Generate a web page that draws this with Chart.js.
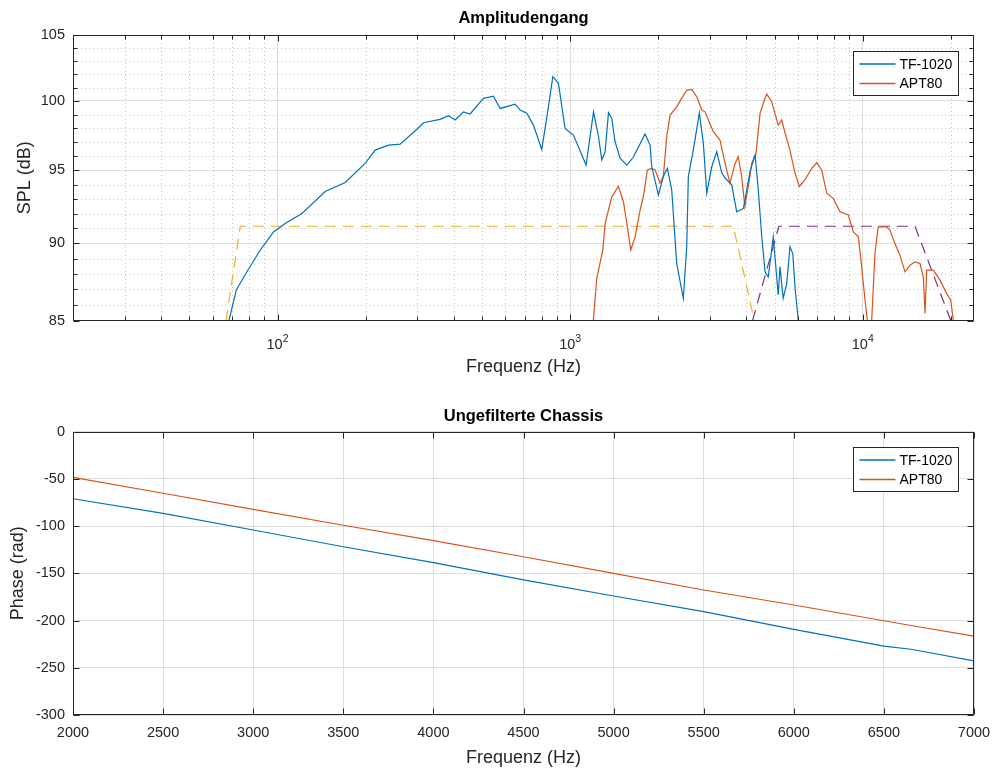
<!DOCTYPE html>
<html>
<head>
<meta charset="utf-8">
<script src="https://cdn.jsdelivr.net/npm/chart.js@4.4.0/dist/chart.umd.min.js"></script>
<style>
    html, body { margin: 0; padding: 0; background: #fff; }
    #wrap { position: relative; width: 995px; height: 769px; }
    .box { position: absolute; left: 0; width: 995px; }
    #oben { top: 0; height: 385px; }
    #unten { top: 385px; height: 384px; }
</style>
</head>
<body>
<div id="wrap">
    <div class="box" id="oben"><canvas id="amplitude"></canvas></div>
    <div class="box" id="unten"><canvas id="phase"></canvas></div>
</div>
<script>
// Amplitudengang (Frequenz in Hz, SPL in dB)
const tfFreq = [68, 72.3, 78.6, 87.3, 96.9, 106.2, 121.2, 145.5, 170.3, 199.3, 215.7, 239.4, 262.6, 307.3, 315.3,
    359.5, 383.9, 404.6, 431.9, 455.1, 505.5, 547, 576.6, 648.6, 674.6, 711, 749, 800, 843, 872.6, 912, 961, 1026,
    1134, 1202, 1250, 1283, 1317, 1352, 1388, 1424, 1482, 1562, 1644, 1803, 1876, 1901, 2003, 2083, 2149, 2224,
    2313, 2437, 2503, 2535, 2636, 2764, 2853, 2930, 3048, 3170, 3297, 3384, 3566, 3709, 3909, 4121, 4285, 4395,
    4518, 4636, 4756, 4946, 5142, 5214, 5347, 5500, 5638, 5767, 5866, 6022, 6200];
const tfSpl = [84.9, 86.95, 88.13, 89.56, 90.77, 91.34, 92.02, 93.52, 94.15, 95.49, 96.43, 96.79, 96.86, 98.15, 98.4,
    98.65, 98.91, 98.6, 99.2, 99.04, 100.19, 100.36, 99.45, 99.77, 99.33, 99.09, 98.23, 96.48, 99.57, 101.81, 101.31,
    97.99, 97.51, 95.37, 99.2, 97.39, 95.73, 96.31, 99.13, 98.72, 97.03, 95.85, 95.37, 95.92, 97.59, 96.79, 95.25,
    93.28, 94.58, 95.14, 93.64, 88.67, 86.42, 89.78, 94.58, 96.43, 99.13, 96.91, 93.4, 95.25, 96.31, 94.82, 94.46,
    93.99, 92.13, 92.36, 94.94, 96.08, 93.64, 90.44, 88.13, 87.8, 90.44, 86.63, 88.45, 86.42, 87.38, 89.78, 89.33,
    87.16, 85.0, 84.0];

const aptFreq = [1190, 1202, 1233, 1293, 1317, 1388, 1462, 1521, 1569, 1611, 1667, 1734, 1779, 1836, 1901, 1951, 2029,
    2083, 2138, 2196, 2313, 2405, 2503, 2604, 2708, 2818, 2891, 2968, 3085, 3252, 3384, 3518, 3660, 3755, 3857, 3955,
    4097, 4174, 4318, 4457, 4612, 4697, 4885, 5013, 5142, 5284, 5428, 5638, 5866, 6070, 6348, 6693, 6963, 7240, 7534,
    7930, 8361, 8925, 9287, 9661, 9917, 10177, 10450, 10727, 11007, 11293, 12070, 12388, 12883, 13397, 13945, 14502,
    15083, 15690, 16106, 16323, 16543, 17418, 18365, 19360, 19980, 20400, 20700];
const aptSpl = [84.5, 85.15, 87.7, 89.56, 91.34, 93.16, 93.87, 92.82, 91.11, 89.56, 90.44, 92.25, 93.16, 95.02, 95.14,
    95.02, 94.11, 94.58, 97.39, 98.96, 99.57, 100.19, 100.81, 100.86, 100.31, 99.33, 99.2, 98.6, 97.75, 97.15, 95.49,
    94.11, 95.49, 95.96, 94.58, 92.47, 94.34, 95.49, 96.2, 99.09, 100.07, 100.51, 99.94, 99.09, 98.23, 98.6, 97.64,
    96.43, 94.82, 93.87, 94.34, 95.14, 95.53, 95.02, 93.4, 93.05, 92.13, 91.91, 90.77, 90.44, 88.45, 86.31, 84.5, 85.0,
    89.33, 91.11, 91.11, 90.89, 90.0, 89.22, 88.13, 88.56, 88.78, 88.67, 87.8, 85.46, 88.24, 88.24, 87.59, 86.72,
    86.31, 85.0, 84.0];

// Filter-Zielkurven (gestrichelt)
const tpFreq = [66.7, 74.6, 3612, 4260];
const tpSpl = [85, 91.15, 91.15, 85];
const hpFreq = [4200, 5170, 15083, 20000];
const hpSpl = [85, 91.15, 91.15, 85];

const freqTicks = [20, 30, 40, 50, 60, 70, 80, 90, 100, 200, 300, 400, 500, 600, 700, 800, 900, 1000,
    2000, 3000, 4000, 5000, 6000, 7000, 8000, 9000, 10000, 20000];
const decades = [100, 1000, 10000];
const splTicks = [85, 86, 87, 88, 89, 90, 91, 92, 93, 94, 95, 96, 97, 98, 99, 100, 101, 102, 103, 104, 105];

// Ungefilterte Chassis (Phase)
const phaseFreq = [2000, 2500, 3000, 3500, 4000, 4500, 5000, 5500, 6000, 6500, 6650, 7000];
const tfPhase = [-71, -86.4, -104.1, -121.8, -138.7, -157, -174, -190.6, -209.3, -227, -230.4, -242.8];
const aptPhase = [-48.3, -65.2, -82.2, -99.1, -115.4, -132.4, -150, -167.6, -183.5, -200.2, -205.2, -216.4];

const schrift = '"Liberation Sans", Arial, Helvetica, sans-serif';
Chart.defaults.font.family = schrift;
Chart.defaults.color = '#262626';

const farben = {
    tf: '#0072BD',
    apt: '#D95319',
    tp: '#EDB120',
    hp: '#7E2F8E',
};

function punkte(xs, ys) {
    return xs.map((x, i) => ({ x: x, y: ys[i] }));
}

function ohnePadding(s) {
    s.paddingLeft = 0;
    s.paddingRight = 0;
}

// Titel, Box, Ticks nach innen, Nebengitter und Legende wie in MATLAB
const matlabAchsen = {
    id: 'matlabAchsen',
    beforeDatasetsDraw(chart, args, opts) {
        if (!opts.nebengitter) return;
        const { ctx, chartArea: a, scales: { x, y } } = chart;
        ctx.save();
        ctx.strokeStyle = '#c6c6c6';
        ctx.lineWidth = 1;
        ctx.setLineDash([1, 3]);
        ctx.beginPath();
        x.ticks.forEach(t => {
            if (t.major) return;
            const px = Math.round(x.getPixelForValue(t.value)) + 0.5;
            ctx.moveTo(px, a.top);
            ctx.lineTo(px, a.bottom);
        });
        y.ticks.forEach(t => {
            if (t.major) return;
            const py = Math.round(y.getPixelForValue(t.value)) + 0.5;
            ctx.moveTo(a.left, py);
            ctx.lineTo(a.right, py);
        });
        ctx.stroke();
        ctx.restore();
    },
    afterDraw(chart, args, opts) {
        const { ctx, chartArea: a, scales: { x, y } } = chart;
        const L = Math.round(a.left) + 0.5;
        const R = Math.round(a.right) - 0.5;
        const T = Math.round(a.top) + 0.5;
        const B = Math.round(a.bottom) - 0.5;
        ctx.save();
        ctx.strokeStyle = '#262626';
        ctx.lineWidth = 1;
        ctx.beginPath();
        x.ticks.forEach(t => {
            const px = Math.round(x.getPixelForValue(t.value)) + 0.5;
            const len = t.major === false ? 4 : 6;
            ctx.moveTo(px, B); ctx.lineTo(px, B - len);
            ctx.moveTo(px, T); ctx.lineTo(px, T + len);
        });
        y.ticks.forEach(t => {
            const py = Math.round(y.getPixelForValue(t.value)) + 0.5;
            const len = t.major === false ? 4 : 6;
            ctx.moveTo(L, py); ctx.lineTo(L + len, py);
            ctx.moveTo(R, py); ctx.lineTo(R - len, py);
        });
        ctx.stroke();
        ctx.strokeRect(L, T, R - L, B - T);

        // Titel über der Achse zentriert
        ctx.fillStyle = '#000000';
        ctx.font = 'bold 16.5px ' + schrift;
        ctx.textAlign = 'center';
        ctx.textBaseline = 'middle';
        ctx.fillText(opts.titel, (a.left + a.right) / 2, opts.titelY);

        // 10^n Beschriftung
        if (opts.dekaden) {
            opts.dekaden.forEach(v => {
                const px = x.getPixelForValue(v);
                const exp = String(Math.round(Math.log10(v)));
                ctx.font = '14.5px ' + schrift;
                const wBasis = ctx.measureText('10').width;
                ctx.font = '10.5px ' + schrift;
                const wExp = ctx.measureText(exp).width;
                const x0 = px - (wBasis + wExp) / 2;
                ctx.fillStyle = '#262626';
                ctx.textAlign = 'left';
                ctx.textBaseline = 'alphabetic';
                ctx.font = '14.5px ' + schrift;
                ctx.fillText('10', x0, a.bottom + 28);
                ctx.font = '10.5px ' + schrift;
                ctx.fillText(exp, x0 + wBasis, a.bottom + 21.5);
            });
        }

        // Legende
        const eintraege = chart.data.datasets.filter(d => d.label);
        const bx = Math.round(a.right - 121) + 0.5;
        const by = Math.round(a.top + 15.5) + 0.5;
        ctx.fillStyle = '#ffffff';
        ctx.fillRect(bx, by, 105, 44);
        ctx.strokeStyle = '#262626';
        ctx.strokeRect(bx, by, 105, 44);
        ctx.font = '14px ' + schrift;
        ctx.textAlign = 'left';
        ctx.textBaseline = 'middle';
        eintraege.forEach((d, i) => {
            const ly = by + 12.5 + i * 19.5;
            ctx.strokeStyle = d.borderColor;
            ctx.lineWidth = 1.3;
            ctx.beginPath();
            ctx.moveTo(bx + 6, ly);
            ctx.lineTo(bx + 42, ly);
            ctx.stroke();
            ctx.fillStyle = '#000000';
            ctx.fillText(d.label, bx + 46, ly + 1);
        });
        ctx.restore();
    }
};

const amplitude = new Chart(document.getElementById('amplitude'), {
    type: 'line',
    data: {
        datasets: [
            { label: 'TF-1020', data: punkte(tfFreq, tfSpl), borderColor: farben.tf, borderWidth: 1.2, pointRadius: 0 },
            { label: 'APT80', data: punkte(aptFreq, aptSpl), borderColor: farben.apt, borderWidth: 1.2, pointRadius: 0 },
            { label: '', data: punkte(tpFreq, tpSpl), borderColor: farben.tp, borderWidth: 1.2, borderDash: [11, 7], pointRadius: 0 },
            { label: '', data: punkte(hpFreq, hpSpl), borderColor: farben.hp, borderWidth: 1.2, borderDash: [11, 7], pointRadius: 0 },
        ]
    },
    options: {
        responsive: true,
        maintainAspectRatio: false,
        animation: false,
        devicePixelRatio: 1,
        layout: { padding: { left: 0, right: 21, top: 35, bottom: 0 } },
        plugins: {
            legend: { display: false },
            tooltip: { enabled: false },
            title: { display: false },
            matlabAchsen: { titel: 'Amplitudengang', titelY: 18, nebengitter: true, dekaden: decades }
        },
        scales: {
            x: {
                type: 'logarithmic',
                min: 20,
                max: 24000,
                afterBuildTicks: s => { s.ticks = freqTicks.map(v => ({ value: v, major: decades.includes(v) })); },
                afterFit: s => { s.height = 64.3; ohnePadding(s); },
                ticks: { callback: () => '', autoSkip: false, maxRotation: 0 },
                grid: { drawTicks: false, color: c => (c.tick && c.tick.major ? '#dedede' : 'rgba(0,0,0,0)') },
                border: { display: false },
                title: { display: true, text: 'Frequenz (Hz)', font: { size: 18 }, padding: { top: 0, bottom: 7.2 } }
            },
            y: {
                type: 'logarithmic',
                min: 85,
                max: 105,
                afterBuildTicks: s => { s.ticks = splTicks.map(v => ({ value: v, major: v % 5 === 0 })); },
                afterFit: s => { s.width = 73; },
                ticks: { callback: v => (v % 5 === 0 ? String(v) : ''), autoSkip: false, padding: 8, font: { size: 14.5 } },
                grid: { drawTicks: false, color: c => (c.tick && c.tick.major ? '#dedede' : 'rgba(0,0,0,0)') },
                border: { display: false },
                title: { display: true, text: 'SPL (dB)', font: { size: 18 }, padding: { top: 14.2 } }
            }
        }
    },
    plugins: [matlabAchsen]
});

const phase = new Chart(document.getElementById('phase'), {
    type: 'line',
    data: {
        datasets: [
            { label: 'TF-1020', data: punkte(phaseFreq, tfPhase), borderColor: farben.tf, borderWidth: 1.2, pointRadius: 0 },
            { label: 'APT80', data: punkte(phaseFreq, aptPhase), borderColor: farben.apt, borderWidth: 1.2, pointRadius: 0 },
        ]
    },
    options: {
        responsive: true,
        maintainAspectRatio: false,
        animation: false,
        devicePixelRatio: 1,
        layout: { padding: { left: 0, right: 21, top: 46.7, bottom: 0 } },
        plugins: {
            legend: { display: false },
            tooltip: { enabled: false },
            title: { display: false },
            matlabAchsen: { titel: 'Ungefilterte Chassis', titelY: 31 }
        },
        scales: {
            x: {
                type: 'linear',
                min: 2000,
                max: 7000,
                afterFit: s => { s.height = 54; ohnePadding(s); },
                ticks: { stepSize: 500, callback: v => String(v), padding: 9, font: { size: 14.5 }, maxRotation: 0 },
                grid: { drawTicks: false, color: '#dedede' },
                border: { display: false },
                title: { display: true, text: 'Frequenz (Hz)', font: { size: 18 }, padding: { top: 0, bottom: 0 } }
            },
            y: {
                type: 'linear',
                min: -300,
                max: 0,
                afterFit: s => { s.width = 73; },
                ticks: { stepSize: 50, callback: v => String(v), padding: 8, font: { size: 14.5 } },
                grid: { drawTicks: false, color: '#dedede' },
                border: { display: false },
                title: { display: true, text: 'Phase (rad)', font: { size: 18 }, padding: { top: 7.5 } }
            }
        }
    },
    plugins: [matlabAchsen]
});
</script>
</body>
</html>
